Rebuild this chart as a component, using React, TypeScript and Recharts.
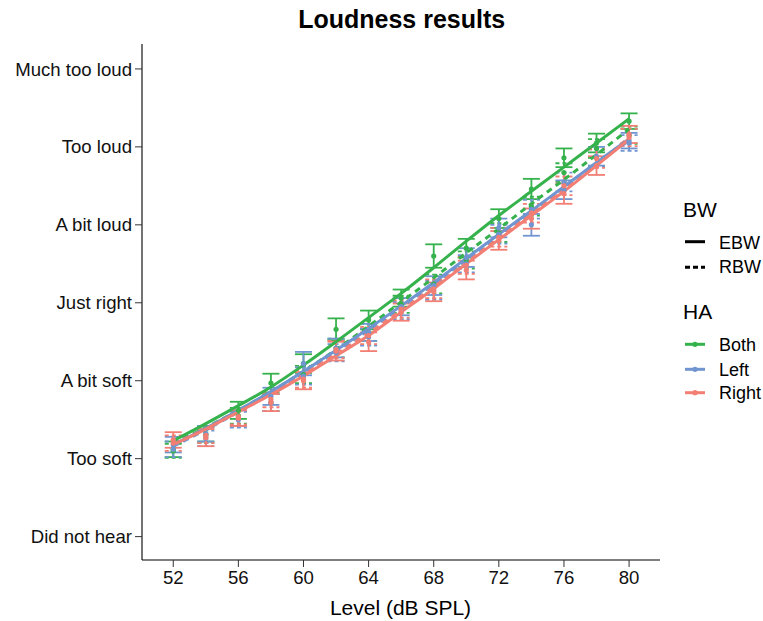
import React from "react";
import {
  ComposedChart,
  ErrorBar,
  Line,
  Scatter,
  XAxis,
  YAxis,
} from "recharts";

const FONT = '"Liberation Sans", Arial, Helvetica, sans-serif';

const GREEN = "#35B24C";
const BLUE = "#7095D0";
const RED = "#F37E73";

// sound levels (dB SPL)
const levels = [52, 54, 56, 58, 60, 62, 64, 66, 68, 70, 72, 74, 76, 78, 80];
const xTicks = [52, 56, 60, 64, 68, 72, 76, 80];
const loudnessLabels = [
  "Did not hear",
  "Too soft",
  "A bit soft",
  "Just right",
  "A bit loud",
  "Too loud",
  "Much too loud",
];

// fitted curves
const bothEbwFit = [1.23, 1.45, 1.68, 1.92, 2.2, 2.5, 2.81, 3.12, 3.45, 3.79, 4.12, 4.43, 4.74, 5.05, 5.36];
const bothRbwFit = [1.2, 1.4, 1.62, 1.86, 2.12, 2.4, 2.7, 3.01, 3.32, 3.64, 3.95, 4.27, 4.58, 4.9, 5.23];
const leftEbwFit = [1.18, 1.39, 1.62, 1.86, 2.12, 2.39, 2.67, 2.96, 3.26, 3.57, 3.88, 4.18, 4.49, 4.8, 5.1];
const leftRbwFit = [1.16, 1.37, 1.6, 1.84, 2.1, 2.37, 2.65, 2.94, 3.24, 3.55, 3.86, 4.17, 4.48, 4.79, 5.08];
const rightEbwFit = [1.18, 1.38, 1.6, 1.82, 2.06, 2.32, 2.58, 2.88, 3.18, 3.5, 3.81, 4.12, 4.43, 4.76, 5.1];
const rightRbwFit = [1.19, 1.39, 1.61, 1.84, 2.08, 2.34, 2.61, 2.9, 3.2, 3.51, 3.83, 4.14, 4.46, 4.78, 5.12];

// mean ratings + standard errors
const bothEbwMean = [1.12, 1.32, 1.62, 1.97, 2.22, 2.66, 2.78, 3.06, 3.6, 3.7, 4.08, 4.46, 4.86, 5.05, 5.33];
const bothEbwSe = [0.1, 0.1, 0.11, 0.12, 0.12, 0.14, 0.12, 0.11, 0.15, 0.12, 0.12, 0.13, 0.12, 0.12, 0.1];
const bothRbwMean = [1.1, 1.3, 1.55, 1.72, 2.08, 2.42, 2.62, 2.98, 3.24, 3.55, 3.9, 4.24, 4.67, 4.98, 5.15];
const bothRbwSe = [0.09, 0.1, 0.1, 0.11, 0.11, 0.12, 0.11, 0.11, 0.12, 0.11, 0.12, 0.12, 0.12, 0.12, 0.11];
const leftEbwMean = [1.18, 1.32, 1.52, 1.8, 2.22, 2.42, 2.62, 2.95, 3.22, 3.58, 3.96, 4.0, 4.45, 4.88, 5.08];
const leftEbwSe = [0.1, 0.1, 0.1, 0.11, 0.15, 0.12, 0.11, 0.11, 0.12, 0.12, 0.12, 0.14, 0.12, 0.12, 0.1];
const leftRbwMean = [1.12, 1.26, 1.5, 1.72, 2.06, 2.36, 2.56, 2.9, 3.16, 3.5, 3.88, 4.2, 4.55, 4.86, 5.05];
const leftRbwSe = [0.1, 0.1, 0.1, 0.11, 0.11, 0.11, 0.11, 0.11, 0.12, 0.11, 0.12, 0.12, 0.12, 0.11, 0.1];
const rightEbwMean = [1.24, 1.27, 1.52, 1.72, 2.0, 2.38, 2.5, 2.88, 3.14, 3.42, 3.8, 4.08, 4.4, 4.76, 5.16];
const rightEbwSe = [0.1, 0.11, 0.1, 0.11, 0.11, 0.12, 0.12, 0.11, 0.12, 0.12, 0.12, 0.13, 0.13, 0.12, 0.11];
const rightRbwMean = [1.2, 1.3, 1.54, 1.76, 2.02, 2.4, 2.58, 2.92, 3.18, 3.48, 3.84, 4.15, 4.5, 4.85, 5.12];
const rightRbwSe = [0.1, 0.1, 0.1, 0.1, 0.11, 0.11, 0.11, 0.11, 0.12, 0.11, 0.12, 0.12, 0.12, 0.12, 0.11];

const fitRows = levels.map((x, i) => ({
  x,
  bothEbw: bothEbwFit[i],
  bothRbw: bothRbwFit[i],
  leftEbw: leftEbwFit[i],
  leftRbw: leftRbwFit[i],
  rightEbw: rightEbwFit[i],
  rightRbw: rightRbwFit[i],
}));

const pts = (mean: number[], se: number[]) =>
  levels.map((x, i) => ({ x, y: mean[i], se: se[i] }));

const pointSeries = [
  { key: "bothE", data: pts(bothEbwMean, bothEbwSe), color: GREEN, dashed: false },
  { key: "bothR", data: pts(bothRbwMean, bothRbwSe), color: GREEN, dashed: true },
  { key: "leftE", data: pts(leftEbwMean, leftEbwSe), color: BLUE, dashed: false },
  { key: "leftR", data: pts(leftRbwMean, leftRbwSe), color: BLUE, dashed: true },
  { key: "rightE", data: pts(rightEbwMean, rightEbwSe), color: RED, dashed: false },
  { key: "rightR", data: pts(rightRbwMean, rightRbwSe), color: RED, dashed: true },
];

const fitLines = [
  { key: "bothRbw", color: GREEN, dashed: true },
  { key: "leftRbw", color: BLUE, dashed: true },
  { key: "rightRbw", color: RED, dashed: true },
  { key: "bothEbw", color: GREEN, dashed: false },
  { key: "leftEbw", color: BLUE, dashed: false },
  { key: "rightEbw", color: RED, dashed: false },
];

const W = 763;
const H = 621;
const TICK = { fill: "#111", fontSize: 18.6, fontFamily: FONT };

function dotShape(color: string) {
  return (p: any) => <circle cx={p.cx} cy={p.cy} r={2.6} fill={color} />;
}

function LegendKey({ y, color, dashed, dot }: { y: number; color: string; dashed?: boolean; dot?: boolean }) {
  return (
    <g>
      <line x1={685} x2={705} y1={y} y2={y} stroke={color} strokeWidth={3} strokeDasharray={dashed ? "5 3" : undefined} />
      {dot && <circle cx={695} cy={y} r={2.6} fill={color} />}
    </g>
  );
}

export default function App() {
  return (
    <div style={{ position: "absolute", left: 0, top: 0, width: W, height: H, overflow: "hidden", fontFamily: FONT }}>
      <ComposedChart
        width={W}
        height={H}
        data={fitRows}
        margin={{ top: 44, right: 103, bottom: 21, left: 0 }}
      >
        <XAxis
          dataKey="x"
          type="number"
          domain={[50.08, 81.9]}
          ticks={xTicks}
          allowDataOverflow
          height={40}
          tick={TICK}
          tickSize={7}
          tickMargin={4}
          axisLine={{ stroke: "#000", strokeWidth: 1.1 }}
          tickLine={{ stroke: "#333" }}
        />
        <YAxis
          type="number"
          domain={[-0.3, 6.32]}
          ticks={[0, 1, 2, 3, 4, 5, 6]}
          allowDataOverflow
          width={142}
          tick={TICK}
          tickSize={7}
          tickMargin={3}
          tickFormatter={(v: number) => loudnessLabels[v] ?? ""}
          axisLine={{ stroke: "#000", strokeWidth: 1.1 }}
          tickLine={{ stroke: "#333" }}
        />
        {pointSeries.map((s) => (
          <Scatter
            key={s.key}
            data={s.data}
            dataKey="y"
            fill={s.color}
            shape={dotShape(s.color)}
            isAnimationActive={false}
          >
            <ErrorBar
              dataKey="se"
              direction="y"
              width={8.5}
              stroke={s.color}
              strokeWidth={1.8}
              strokeDasharray={s.dashed ? "4 3" : undefined}
            />
          </Scatter>
        ))}
        {fitLines.map((l) => (
          <Line
            key={l.key}
            dataKey={l.key}
            type="monotone"
            stroke={l.color}
            strokeWidth={3}
            strokeDasharray={l.dashed ? "6 5" : undefined}
            dot={false}
            activeDot={false}
            isAnimationActive={false}
          />
        ))}
      </ComposedChart>
      <svg
        width={W}
        height={H}
        style={{ position: "absolute", left: 0, top: 0, pointerEvents: "none" }}
        fontFamily={FONT}
      >
        <text x={401.7} y={28.3} textAnchor="middle" fontSize={25} fontWeight="bold" fill="#000">
          Loudness results
        </text>
        <text x={400.5} y={615} textAnchor="middle" fontSize={21} fill="#000">
          Level (dB SPL)
        </text>
        <text x={683} y={216.7} fontSize={21} fill="#000">BW</text>
        <LegendKey y={241.7} color="#000" />
        <text x={719} y={249.3} fontSize={18} fill="#000">EBW</text>
        <LegendKey y={267.3} color="#000" dashed />
        <text x={719} y={273.3} fontSize={18} fill="#000">RBW</text>
        <text x={683} y={319.3} fontSize={21} fill="#000">HA</text>
        <LegendKey y={344.3} color={GREEN} dot />
        <text x={719} y={351} fontSize={18} fill="#000">Both</text>
        <LegendKey y={369.3} color={BLUE} dot />
        <text x={719} y={376} fontSize={18} fill="#000">Left</text>
        <LegendKey y={392.7} color={RED} dot />
        <text x={719} y={399.4} fontSize={18} fill="#000">Right</text>
      </svg>
    </div>
  );
}
